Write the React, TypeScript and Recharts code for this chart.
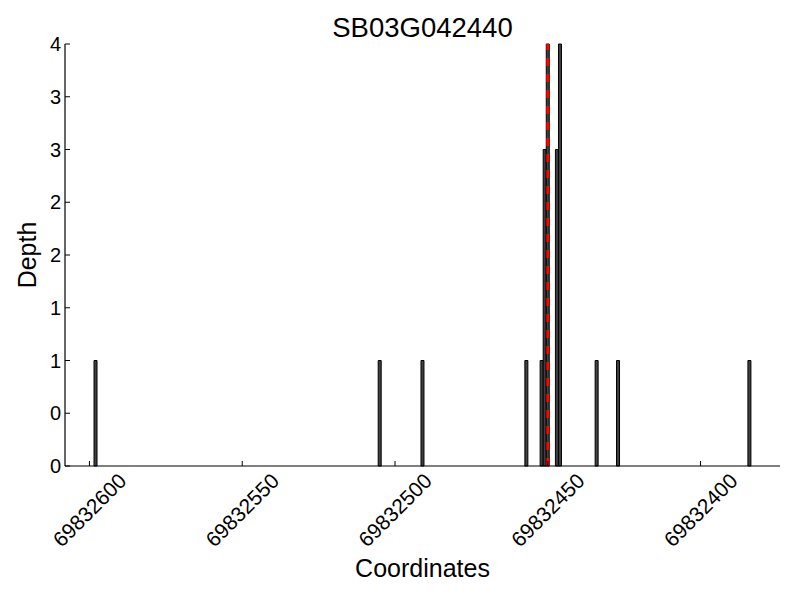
import React from 'react'
import {
  ComposedChart,
  Bar,
  XAxis,
  YAxis,
  ReferenceLine,
  Label,
} from 'recharts'

// depth per genomic coordinate
const coordinates = [
  69832598, 69832505, 69832491, 69832457, 69832452, 69832451,
  69832450, 69832447, 69832446, 69832434, 69832427, 69832384,
]
const depths = [1, 1, 1, 1, 1, 3, 4, 3, 4, 1, 1, 1]

const xTicks = [69832600, 69832550, 69832500, 69832450, 69832400]
const yTicks = [0, 0.5, 1, 1.5, 2, 2.5, 3, 3.5, 4]
const xDomain = [69832374, 69832608]
const markerPos = 69832450

const title = 'SB03G042440'
const font = '"Liberation Sans", Arial, Helvetica, sans-serif'

const data = coordinates.map((c, i) => ({ coord: c, depth: depths[i] }))

function RotatedTick({ x, y, payload }: { x?: number; y?: number; payload?: { value: number } }) {
  return (
    <g transform={`translate(${x},${(y ?? 0) + 44}) rotate(-45)`}>
      <text
        textAnchor="middle"
        dominantBaseline="central"
        fontSize={21}
        fontFamily={font}
        fill="#000"
      >
        {payload?.value}
      </text>
    </g>
  )
}

export default function App() {
  return (
    <div style={{ position: 'absolute', left: 0, top: 0, width: 800, height: 600, background: '#fff' }}>
      <div
        style={{
          position: 'absolute',
          left: 65,
          width: 715,
          top: 12,
          textAlign: 'center',
          fontFamily: font,
          fontSize: 27.5,
          lineHeight: '32px',
          color: '#000',
        }}
      >
        {title}
      </div>
      <ComposedChart
        width={800}
        height={600}
        data={data}
        margin={{ top: 44, right: 20, left: 0, bottom: 0 }}
      >
        <XAxis
          dataKey="coord"
          type="number"
          domain={xDomain}
          allowDataOverflow
          reversed
          ticks={xTicks}
          interval={0}
          height={134}
          tickSize={-5}
          tickMargin={5}
          tick={<RotatedTick />}
          axisLine={{ stroke: '#000', strokeWidth: 1.2 }}
          tickLine={{ stroke: '#000' }}
        >
          <Label
            content={({ viewBox }: any) => (
              <text
                x={viewBox.x + viewBox.width / 2}
                y={577}
                textAnchor="middle"
                fontSize={25}
                fontFamily={font}
                fill="#000"
              >
                Coordinates
              </text>
            )}
          />
        </XAxis>
        <YAxis
          type="number"
          domain={[0, 4]}
          ticks={yTicks}
          interval={0}
          width={65}
          tickSize={-5}
          tickMargin={9}
          tickFormatter={(v: number) => String(Math.floor(v))}
          tick={{ fill: '#000', fontSize: 20, fontFamily: font }}
          axisLine={{ stroke: '#000', strokeWidth: 1.2 }}
          tickLine={{ stroke: '#000' }}
        >
          <Label
            content={({ viewBox }: any) => (
              <text
                transform={`translate(27,${viewBox.y + viewBox.height / 2}) rotate(-90)`}
                textAnchor="middle"
                dominantBaseline="central"
                fontSize={25}
                fontFamily={font}
                fill="#000"
              >
                Depth
              </text>
            )}
          />
        </YAxis>
        <Bar
          dataKey="depth"
          barSize={3}
          fill="#404040"
          stroke="#000"
          strokeWidth={1}
          isAnimationActive={false}
        />
        <ReferenceLine
          x={markerPos}
          stroke="#ff0000"
          strokeWidth={3}
          strokeDasharray="8 8"
        />
      </ComposedChart>
    </div>
  )
}
